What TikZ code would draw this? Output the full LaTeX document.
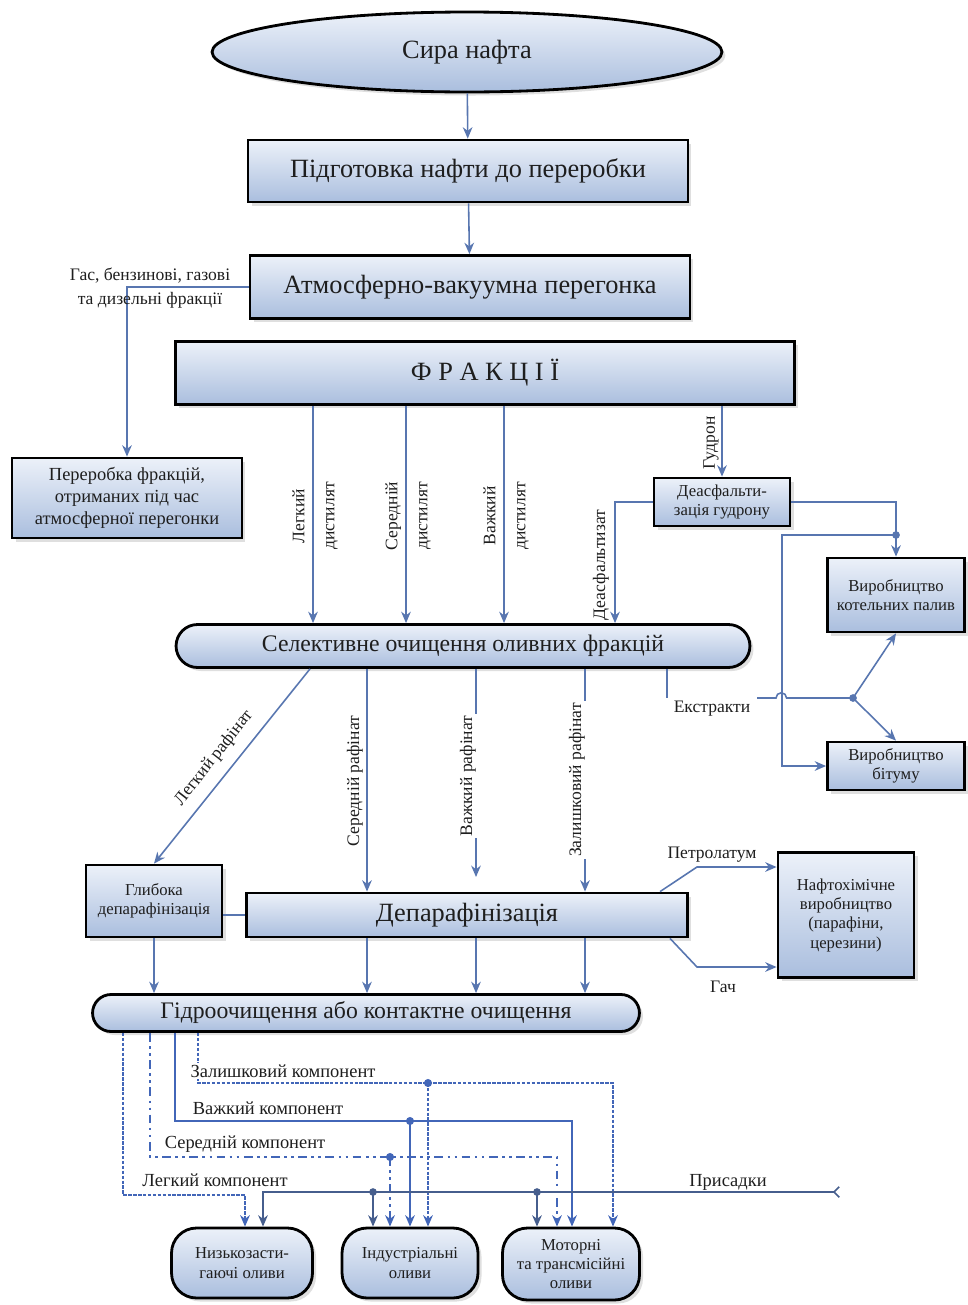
\documentclass[tikz,border=0pt]{standalone}
\usepackage{fontspec}
\setmainfont{Liberation Serif}
\usetikzlibrary{calc, positioning}
\usetikzlibrary{arrows.meta}
\usetikzlibrary{shapes.geometric, shadows}

\definecolor{flowc}{RGB}{88,118,176}
\definecolor{compc}{RGB}{66,102,184}
\definecolor{boxtop}{RGB}{236,241,249}
\definecolor{boxbot}{RGB}{170,190,222}
\definecolor{txtc}{RGB}{30,30,30}

\begin{document}
\begin{tikzpicture}[x=0.02cm, y=-0.02cm,
  box/.style={draw=black, line width=1.6pt, top color=boxtop, bottom color=boxbot,
    drop shadow={shadow xshift=2pt, shadow yshift=-2pt, opacity=0.25},
    text=txtc, align=center, inner sep=2pt},
  bigbox/.style={box, font=\fontsize{15}{17}\selectfont},
  smallbox/.style={box, font=\fontsize{9.5}{11}\selectfont},
  pill/.style={box, rounded corners=#1},
  lbl/.style={text=txtc, font=\fontsize{10}{11}\selectfont, inner sep=1pt, align=center},
  lblw/.style={lbl, fill=white},
  flow/.style={draw=flowc, line width=0.9pt, -{Stealth[length=6.5pt, width=5.5pt]}},
  link/.style={draw=flowc, line width=0.9pt},
  comp/.style={draw=compc, line width=1.5pt, -{Stealth[length=6.5pt, width=5.5pt]}},
  lightc/.style={comp, dash pattern=on 2pt off 0.8pt},
  midc/.style={comp, dash pattern=on 5pt off 2.5pt on 1.5pt off 2.5pt on 1.5pt off 2.5pt},
  heavyc/.style={comp, line width=1.6pt},
  resc/.style={comp, dash pattern=on 2pt off 0.8pt},
  addc/.style={draw=flowc!80!black, line width=0.9pt},
]
\useasboundingbox (0,0) rectangle (967,1305);

\node[bigbox, ellipse, minimum width=10.2cm, minimum height=1.6cm] (crude) at (467,52) {Сира нафта};
\node[bigbox, minimum width=8.8cm, minimum height=1.24cm] (prep) at (468,171) {Підготовка нафти до переробки};
\node[bigbox, minimum width=8.8cm, minimum height=1.26cm] (atm) at (470,287) {Атмосферно-вакуумна перегонка};
\node[bigbox, minimum width=12.38cm, minimum height=1.26cm] (fract) at (485,373) {Ф Р А К Ц І Ї};
\node[box, font=\fontsize{10.5}{12.5}\selectfont, minimum width=4.6cm, minimum height=1.6cm] (atmproc) at (127,498)
  {Переробка фракцій,\\отриманих під час\\атмосферної перегонки};
\node[smallbox, minimum width=2.72cm, minimum height=0.96cm] (deasph) at (722,502) {Деасфальти-\\зація гудрону};
\node[smallbox, minimum width=2.74cm, minimum height=1.48cm] (boiler) at (896,595) {Виробництво\\котельних палив};
\node[smallbox, minimum width=2.74cm, minimum height=0.96cm] (bitumen) at (896,766) {Виробництво\\бітуму};
\node[pill=0.43cm, font=\fontsize{13.5}{15}\selectfont, minimum width=11.48cm, minimum height=0.86cm] (select) at (463,646)
  {Селективне очищення оливних фракцій};
\node[smallbox, minimum width=2.72cm, minimum height=1.44cm] (deep) at (154,901) {Глибока\\депарафінізація};
\node[bigbox, minimum width=8.82cm, minimum height=0.88cm] (dewax) at (467,915) {Депарафінізація};
\node[smallbox, minimum width=2.72cm, minimum height=2.5cm] (petro) at (846,915)
  {Нафтохімічне\\виробництво\\(парафіни,\\церезини)};
\node[pill=0.37cm, font=\fontsize{13.5}{15}\selectfont, minimum width=10.94cm, minimum height=0.74cm] (hydro) at (366,1013)
  {Гідроочищення або контактне очищення};
\node[pill=0.5cm, font=\fontsize{9.5}{11}\selectfont, minimum width=2.82cm, minimum height=1.4cm] (lowpour) at (242,1263)
  {Низькозасти-\\гаючі оливи};
\node[pill=0.5cm, font=\fontsize{9.5}{11}\selectfont, minimum width=2.72cm, minimum height=1.4cm] (indust) at (410,1263)
  {Індустріальні\\оливи};
\node[pill=0.5cm, font=\fontsize{9.5}{11}\selectfont, minimum width=2.74cm, minimum height=1.44cm] (motor) at (571,1264)
  {Моторні\\та трансмісійні\\оливи};

\coordinate (d1) at (313,0);
\coordinate (d2) at (406,0);
\coordinate (d3) at (504,0);
\coordinate (dz) at (615,0);
\coordinate (bx) at (782,535);
\coordinate (exa) at (667,698);
\coordinate (exb) at (757,698);
\coordinate (exj) at (853,698);
\coordinate (r1) at (310,0);
\coordinate (r2) at (367,0);
\coordinate (r3) at (476,0);
\coordinate (r4) at (585,0);
\coordinate (r3e) at (476,877);
\coordinate (pa) at (660,0);
\coordinate (pb) at (697,867);
\coordinate (pc) at (697,967);
\coordinate (pd) at (670,0);
\coordinate (lgt) at (123,1195);
\coordinate (mid) at (150,1157);
\coordinate (hvy) at (175,1121);
\coordinate (res) at (198,1083);
\coordinate (lp1) at (245,0);
\coordinate (lp2) at (263,0);
\coordinate (mt1) at (557,0);
\coordinate (mt2) at (572,0);
\coordinate (mt3) at (613,0);
\coordinate (mj) at (390,1157);
\coordinate (hj) at (410,1121);
\coordinate (rj) at (428,1083);
\coordinate (ad) at (840,1192);
\coordinate (aj1) at (373,1192);
\coordinate (aj2) at (537,1192);

\draw[flow] (crude) -- (prep);
\draw[flow] (prep) -- (atm);
\draw[flow] (atm.west) -| (atmproc.north);
\node[lbl] (l-gas) at (150,288) {Гас, бензинові, газові\\[3pt]та дизельні фракції};

\draw[flow] (fract.south -| d1) -- (select.north -| d1);
\draw[flow] (fract.south -| d2) -- (select.north -| d2);
\draw[flow] (fract.south -| d3) -- (select.north -| d3);
\node[lbl, rotate=90] (l-ld) at (315,516) {Легкий\\[6pt]дистилят};
\node[lbl, rotate=90] (l-sd) at (408,516) {Середній\\[6pt]дистилят};
\node[lbl, rotate=90] (l-vd) at (506,516) {Важкий\\[6pt]дистилят};

\draw[flow] (fract.south -| deasph.north) -- (deasph.north);
\node[lbl, rotate=90] (l-gud) at (711,443) {Гудрон};
\draw[flow] (deasph.west) -| (dz |- select.north);
\node[lbl, rotate=90] (l-dz) at (601,565) {Деасфальтизат};
\draw[flow] (deasph.east) -| (boiler.north);
\draw[flow] (boiler.north |- bx) -- (bx) |- (bitumen.west);
\fill[flowc] (boiler.north |- bx) circle (2.2pt);

\draw[link] (select.south -| exa) -- (exa);
\node[lbl] (l-ex) at (712,709) {Екстракти};
\draw[link] (exb) -- (776,698) arc[start angle=180, end angle=0, radius=3pt] -- (exj);
\draw[flow] (exj) -- (boiler.south);
\draw[flow] (exj) -- (bitumen.north);
\fill[flowc] (exj) circle (2.2pt);

\draw[flow] (select.south -| r1) -- (deep.north);
\node[lbl, rotate=52] (l-lr) at (214,758) {Легкий рафінат};
\draw[flow] (select.south -| r2) -- (dewax.north -| r2);
\node[lbl, rotate=90] (l-sr) at (355,781) {Середній рафінат};
\draw[flow] (select.south -| r3) -- (r3e);
\node[lblw, rotate=90] (l-vr) at (468,776) {Важкий рафінат};
\draw[flow] (select.south -| r4) -- (dewax.north -| r4);
\node[lblw, rotate=90] (l-zr) at (577,780) {Залишковий рафінат};

\draw[link] (dewax.west) -- (dewax.west -| deep.east);
\draw[flow] (dewax.north -| pa) -- (pb) -- (pb -| petro.west);
\draw[flow] (dewax.south -| pd) -- (pc) -- (pc -| petro.west);
\node[lbl] (l-pet) at (712,855) {Петролатум};
\node[lbl] (l-gach) at (723,987) {Гач};

\draw[flow] (deep.south) -- (hydro.north -| deep.south);
\draw[flow] (dewax.south -| r2) -- (hydro.north -| r2);
\draw[flow] (dewax.south -| r3) -- (hydro.north -| r3);
\draw[flow] (dewax.south -| r4) -- (hydro.north -| r4);

\draw[lightc] (hydro.south -| lgt) -- (lgt) -| (lp1 |- lowpour.north);
\draw[midc] (hydro.south -| mid) -- (mid) -| (mt1 |- motor.north);
\draw[midc] (mj) -- (mj |- indust.north);
\draw[heavyc] (hydro.south -| hvy) -- (hvy) -| (mt2 |- motor.north);
\draw[heavyc] (hj) -- (hj |- indust.north);
\draw[resc] (hydro.south -| res) -- (res) -| (mt3 |- motor.north);
\draw[resc] (rj) -- (rj |- indust.north);
\fill[compc] (mj) circle (2.3pt);
\fill[compc] (hj) circle (2.3pt);
\fill[compc] (rj) circle (2.3pt);
\node[lblw, font=\fontsize{10.5}{12}\selectfont] (l-zk) at (283,1071) {Залишковий компонент};
\node[lbl, font=\fontsize{10.5}{12}\selectfont] (l-vk) at (268,1108) {Важкий компонент};
\node[lbl, font=\fontsize{10.5}{12}\selectfont] (l-sk) at (245,1144) {Середній компонент};
\node[lbl, font=\fontsize{10.5}{12}\selectfont] (l-lk) at (215,1180) {Легкий компонент};

\draw[addc, {Straight Barb[reversed, length=3pt, width=6pt]}-{Stealth[length=6.5pt, width=5.5pt]}] (ad) -| (lp2 |- lowpour.north);
\draw[addc, -{Stealth[length=6.5pt, width=5.5pt]}] (aj1) -- (aj1 |- indust.north);
\draw[addc, -{Stealth[length=6.5pt, width=5.5pt]}] (aj2) -- (aj2 |- motor.north);
\fill[flowc!80!black] (aj1) circle (2.2pt);
\fill[flowc!80!black] (aj2) circle (2.2pt);
\node[lbl, font=\fontsize{10.5}{12}\selectfont] (l-add) at (728,1182) {Присадки};
\end{tikzpicture}
\end{document}
